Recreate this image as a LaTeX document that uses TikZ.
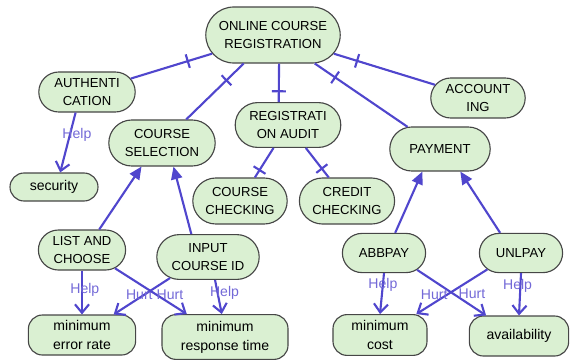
\documentclass[tikz,border=0pt]{standalone}
\usepackage{fontspec}
\setmainfont{Liberation Sans}
\usetikzlibrary{arrows.meta,shapes.misc,decorations.markings}

\definecolor{goalfill}{RGB}{218,240,210}
\definecolor{goalline}{RGB}{70,70,70}
\definecolor{linkblue}{RGB}{80,70,205}
\definecolor{lblblue}{RGB}{115,105,215}

\begin{document}
\begin{tikzpicture}[
    x=0.025cm, y=-0.025cm,
    goal/.style={rounded rectangle, draw=goalline, fill=goalfill, line width=0.8pt, inner sep=2pt, align=center, font=\fontsize{9.3}{13}\selectfont},
    softgoal/.style={rectangle, rounded corners=10pt, draw=goalline, fill=goalfill, line width=0.8pt, inner sep=2pt, align=center, font=\fontsize{10}{13.5}\selectfont},
    link/.style={draw=linkblue, line width=1.5pt},
    decomp/.style={link, postaction={decorate}, decoration={markings, mark=at position #1 with {\draw[linkblue, line width=1.5pt] (0,-5pt) -- (0,5pt);}}},
    meansend/.style={link, -{Triangle[length=9pt, width=8pt]}},
    contrib/.style={link, -{Straight Barb[length=6pt, width=10pt]}},
    lbl/.style={text=lblblue, font=\fontsize{10}{12}\selectfont}
]
\useasboundingbox (0,0) rectangle (570,362);

% Define node positions
\node[goal, minimum width=3.5cm, minimum height=1.4cm] (ocr) at (273,35) {ONLINE COURSE\\REGISTRATION};
\node[goal, minimum width=2.55cm, minimum height=1cm] (auth) at (87,92) {AUTHENTI\\CATION};
\node[goal, minimum width=2.5cm, minimum height=1cm] (acc) at (478,98) {ACCOUNT\\ING};
\node[goal, minimum width=2.8cm, minimum height=1.15cm] (cs) at (162,143) {COURSE\\SELECTION};
\node[goal, minimum width=2.78cm, minimum height=1.12cm] (audit) at (288,125) {REGISTRATI\\ON AUDIT};
\node[goal, minimum width=2.65cm, minimum height=1.1cm] (pay) at (440,149) {PAYMENT};
\node[goal, minimum width=2.5cm, minimum height=1.15cm] (cc) at (240,201) {COURSE\\CHECKING};
\node[goal, minimum width=2.52cm, minimum height=1.15cm] (credit) at (347,201) {CREDIT\\CHECKING};
\node[goal, minimum width=2.32cm, minimum height=1cm] (list) at (82,250) {LIST AND\\CHOOSE};
\node[goal, minimum width=2.7cm, minimum height=1.12cm] (input) at (208,257) {INPUT\\COURSE ID};
\node[goal, minimum width=2.22cm, minimum height=0.98cm] (abb) at (384,253) {ABBPAY};
\node[goal, minimum width=2.22cm, minimum height=0.98cm] (unl) at (521,253) {UNLPAY};

% Softgoals
\node[softgoal, minimum width=2.2cm, minimum height=0.7cm] (sec) at (54,187) {security};
\node[softgoal, minimum width=2.68cm, minimum height=1cm] (err) at (82,335) {minimum\\error rate};
\node[softgoal, minimum width=3.15cm, minimum height=1.12cm] (resp) at (225,337) {minimum\\response time};
\node[softgoal, minimum width=2.35cm, minimum height=1.02cm] (cost) at (380,335) {minimum\\cost};
\node[softgoal, minimum width=2.48cm, minimum height=1cm] (avail) at (519,336) {availability};

% Decompositions
\draw[decomp=0.3] (ocr) -- (auth);
\draw[decomp=0.3] (ocr) -- (cs);
\draw[decomp=0.72] (ocr.282) -- (audit.112);
\draw[decomp=0.22] (ocr) -- (pay);
\draw[decomp=0.23] (ocr) -- (acc);
\draw[decomp=0.75] (audit) -- (cc);
\draw[decomp=0.7] (audit) -- (credit);

% Means-end links
\draw[meansend] (list.50) -- (cs.229);
\draw[meansend] (input.126) -- (cs.296);
\draw[meansend] (abb.61) -- (pay.232);
\draw[meansend] (unl.136) -- (pay.312);

% Contributions
\draw[contrib] (auth.241) -- (sec.67) node[lbl, pos=0.37, xshift=5pt] {Help};
\draw[contrib] (list.south) -- (err.north) node[lbl, pos=0.45, xshift=2pt] {Help};
\draw[contrib] (input.287) -- (resp.98) node[lbl, pos=0.37, xshift=5pt] {Help};
\draw[contrib] (input.209) -- (err.33) node[lbl, pos=0.47, xshift=-3pt] {Hurt};
\draw[contrib] (list.331) -- (resp.149) node[lbl, pos=0.57, xshift=10pt] {Hurt};
\draw[contrib] (abb.south) -- (cost.north) node[lbl, pos=0.28] {Help};
\draw[contrib] (unl.south) -- (avail.north) node[lbl, pos=0.3, xshift=-2pt] {Help};
\draw[contrib] (unl.206) -- (cost.30) node[lbl, pos=0.57, xshift=-9pt] {Hurt};
\draw[contrib] (abb.333) -- (avail.148) node[lbl, pos=0.53, xshift=13pt] {Hurt};

\end{tikzpicture}
\end{document}
